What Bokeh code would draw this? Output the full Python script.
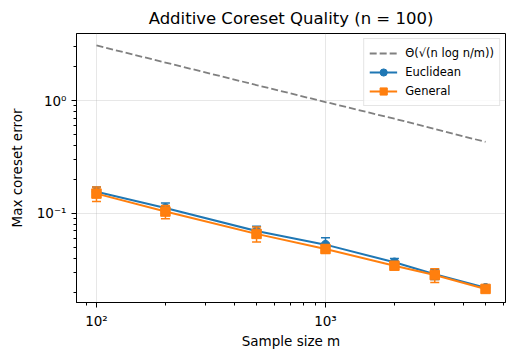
from bokeh.plotting import figure
from bokeh.models import FixedTicker, Range1d, Legend, LegendItem
from bokeh.embed import file_html
from bokeh.resources import INLINE

# ---- data ----
m_values = [100, 200, 500, 1000, 2000, 3000, 5000]
theory = [3.07, 2.17, 1.37, 0.97, 0.69, 0.56, 0.43]
eucl_mean = [0.156, 0.112, 0.070, 0.053, 0.037, 0.029, 0.022]
eucl_err = [0.016, 0.012, 0.007, 0.008, 0.003, 0.003, 0.001]
gen_mean = [0.150, 0.104, 0.066, 0.0485, 0.0345, 0.0285, 0.0215]
gen_err = [0.022, 0.014, 0.010, 0.004, 0.002, 0.004, 0.001]
x_tick_labels = {100: "10²", 1000: "10³"}
y_tick_labels = {1: "10⁰", 0.1: "10⁻¹"}

FONT = "DejaVu Sans"
BLUE = "#1f77b4"
ORANGE = "#ff7f0e"

p = figure(width=515, height=361, x_axis_type="log", y_axis_type="log",
           x_range=Range1d(81.8, 6110), y_range=Range1d(0.0163, 3.92),
           output_backend="svg", toolbar_location=None,
           min_border_left=76, min_border_right=10, min_border_top=33,
           min_border_bottom=59,
           title="Additive Coreset Quality (n = 100)")

p.title.align = "center"
p.title.text_font = FONT
p.title.text_font_size = "16.5px"
p.title.text_font_style = "normal"
p.title.text_color = "black"
p.title.standoff = 12

p.outline_line_color = "black"
p.outline_line_width = 1
p.background_fill_color = "white"
p.border_fill_color = "white"

# ticks
p.xaxis.ticker = FixedTicker(ticks=[100, 1000],
                             minor_ticks=[80, 90, 200, 300, 400, 500, 600, 700, 800, 900,
                                          2000, 3000, 4000, 5000, 6000])
p.yaxis.ticker = FixedTicker(ticks=[0.1, 1],
                             minor_ticks=[0.02, 0.03, 0.04, 0.05, 0.06, 0.07, 0.08, 0.09,
                                          0.2, 0.3, 0.4, 0.5, 0.6, 0.7, 0.8, 0.9, 2, 3])
p.xaxis.major_label_overrides = x_tick_labels
p.yaxis.major_label_overrides = y_tick_labels

for ax in (p.xaxis[0], p.yaxis[0]):
    ax.axis_line_color = "black"
    ax.major_tick_line_color = "black"
    ax.minor_tick_line_color = "black"
    ax.major_tick_in = 0
    ax.major_tick_out = 5
    ax.minor_tick_in = 0
    ax.minor_tick_out = 3
    ax.major_label_text_font = FONT
    ax.major_label_text_font_size = "13.5px"
    ax.major_label_text_color = "black"
    ax.axis_label_text_font = FONT
    ax.axis_label_text_font_size = "13.5px"
    ax.axis_label_text_font_style = "normal"
    ax.axis_label_text_color = "black"

p.xaxis.axis_label = "Sample size m"
p.yaxis.axis_label = "Max coreset error"
p.xaxis.axis_label_standoff = 1
p.yaxis.axis_label_standoff = 9

p.xgrid.ticker = p.xaxis[0].ticker
p.ygrid.ticker = p.yaxis[0].ticker
p.grid.grid_line_color = "#b0b0b0"
p.grid.grid_line_alpha = 0.3
p.grid.grid_line_width = 1

# theory line
r_theory = p.line(m_values, theory, line_color="gray", line_width=1.8, line_dash="7 3")

def series(mean, err, color, marker, size):
    lo = [a - b for a, b in zip(mean, err)]
    hi = [a + b for a, b in zip(mean, err)]
    ln = p.line(m_values, mean, line_color=color, line_width=2)
    p.segment(x0=m_values, y0=lo, x1=m_values, y1=hi, line_color=color, line_width=1.5)
    p.scatter(m_values, lo, marker="dash", size=9, line_color=color, line_width=1.5)
    p.scatter(m_values, hi, marker="dash", size=9, line_color=color, line_width=1.5)
    sc = p.scatter(m_values, mean, marker=marker, size=size, fill_color=color,
                   line_color=color)
    return ln, sc

b_ln, b_sc = series(eucl_mean, eucl_err, BLUE, "circle", 8.5)
o_ln, o_sc = series(gen_mean, gen_err, ORANGE, "square", 9.5)

legend = Legend(items=[
    LegendItem(label="Θ(√(n log n/m))", renderers=[r_theory]),
    LegendItem(label="Euclidean", renderers=[b_ln, b_sc]),
    LegendItem(label="General", renderers=[o_ln, o_sc]),
], location="top_right")
legend.label_text_font = FONT
legend.label_text_font_size = "11.5px"
legend.label_text_color = "black"
legend.border_line_color = "#cccccc"
legend.border_line_width = 1
legend.background_fill_alpha = 0.8
legend.margin = 5
legend.padding = 5
legend.spacing = 1
legend.glyph_width = 28
legend.glyph_height = 18
legend.label_height = 18
legend.label_standoff = 8
p.add_layout(legend)

open("out.html", "w").write(file_html(p, INLINE))
